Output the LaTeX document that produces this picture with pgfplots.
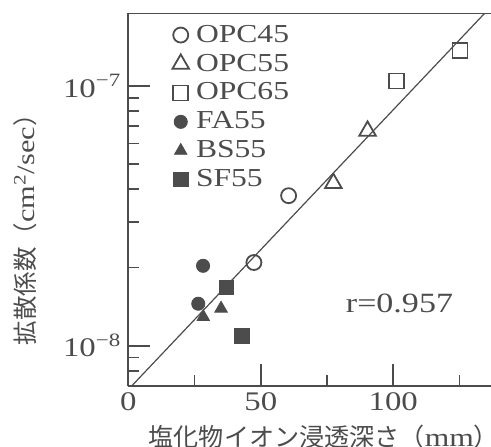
\documentclass[border=0pt]{standalone}
\usepackage{fontspec}
\setmainfont{Liberation Serif}[FakeStretch=1.22]
\newfontfamily\jp{Noto Sans CJK JP}
\usepackage{pgfplots}
\pgfplotsset{compat=1.18}
\definecolor{ink}{gray}{0.3}
\definecolor{fillg}{gray}{0.3}
\begin{document}
\begin{tikzpicture}
\begin{axis}[
  at={(0,0)}, anchor=south west,
  scale only axis,
  width=181.4bp, height=186.5bp,
  xmin=0, xmax=136.9,
  ymode=log, ymin=7.0e-9, ymax=1.91e-7,
  axis lines=left,
  axis line style={-, line width=1bp, draw=ink},
  tick style={draw=ink, line width=0.9bp},
  tick align=inside,
  xtick={0,50,100},
  minor xtick={25,75,125},
  ytick={1e-8,1e-7},
  yticklabels={10\textsuperscript{−8},10\textsuperscript{−7}},
  minor ytick={8e-9,9e-9,2e-8,3e-8,4e-8,5e-8,6e-8,7e-8,8e-8,9e-8},
  major tick length=11bp,
  minor tick length=5.5bp,
  /pgf/number format/assume math mode=true,
  ticklabel style={font=\fontsize{13.5}{15}\selectfont, text=ink},
  clip=true,
  legend style={draw=none, fill=none, at={(rel axis cs:0.104,0.985)}, anchor=north west,
    font=\fontsize{13}{15}\selectfont, text=ink, row sep=2.4bp, column sep=1.5bp,
    nodes={inner ysep=1bp}},
  legend cell align=left,
]
\addplot[only marks, mark=o, mark size=3.75bp, draw=ink, line width=0.9bp] coordinates {
  (60.5,3.78e-8) (47.4,2.09e-8)};
\addlegendentry{OPC45}
\addplot[only marks, mark=triangle, mark size=4.8bp, draw=ink, line width=0.9bp] coordinates {
  (77.4,4.22e-8) (90.3,6.71e-8)};
\addlegendentry{OPC55}
\addplot[only marks, mark=square, mark size=3.75bp, draw=ink, line width=0.9bp] coordinates {
  (101.3,1.045e-7) (125.2,1.37e-7)};
\addlegendentry{OPC65}
\addplot[only marks, mark=*, mark size=3.3bp, draw=fillg, fill=fillg] coordinates {
  (28.2,2.03e-8) (26.4,1.45e-8)};
\addlegendentry{FA55}
\addplot[only marks, mark=triangle*, mark size=3.6bp, draw=fillg, fill=fillg] coordinates {
  (28.3,1.29e-8) (35.0,1.39e-8)};
\addlegendentry{BS55}
\addplot[only marks, mark=square*, mark size=3.6bp, draw=fillg, fill=fillg] coordinates {
  (37.1,1.68e-8) (42.9,1.09e-8)};
\addlegendentry{SF55}
\addplot[no marks, draw=ink, line width=0.6bp, forget plot] coordinates {
  (1.3,7.0e-9) (134.6,1.91e-7)};
\node[anchor=west, text=ink, font=\fontsize{14}{16}\selectfont, inner sep=0pt] at (axis cs:82,1.46e-8) {r=0.957};
\draw[ink, line width=1bp] (rel axis cs:0,1) -- (rel axis cs:1,1);
\end{axis}
\node[anchor=west, text=ink, inner sep=0pt] at (10bp,-25.5bp)
  {{\jp\fontsize{12.6}{15}\selectfont 塩化物イオン浸透深さ（}{\fontsize{13}{15}\selectfont mm}{\jp\fontsize{12.6}{15}\selectfont ）}};
\node[rotate=90, anchor=center, text=ink, inner sep=0pt] at (-51.7bp,81bp)
  {{\jp\fontsize{12.3}{15}\selectfont 拡散係数（}{\fontsize{12.5}{15}\selectfont cm\textsuperscript{2}/sec}{\jp\fontsize{12.3}{15}\selectfont ）}};
\pgfresetboundingbox
\useasboundingbox (-64.2bp,-30.5bp) rectangle (181.4bp,193bp);
\end{tikzpicture}
\end{document}
